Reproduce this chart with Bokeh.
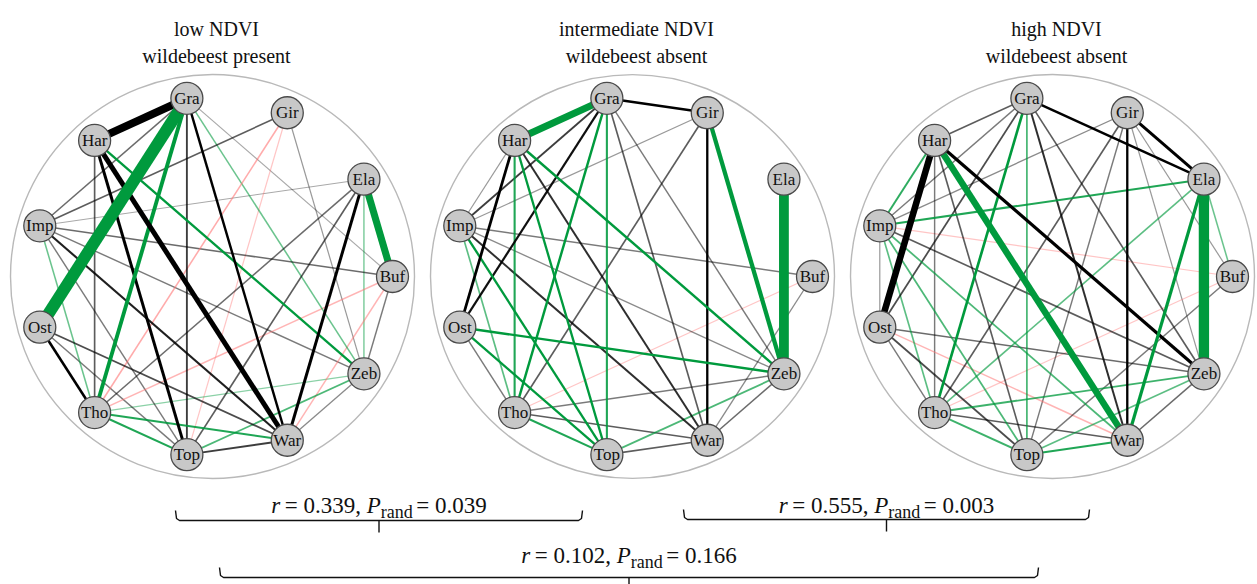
import math
from bokeh.plotting import figure
from bokeh.models import Range1d, ColumnDataSource
from bokeh.core.properties import value
from bokeh.embed import file_html
from bokeh.resources import INLINE

# ---------------- data ----------------
SPECIES = ["Buf", "Ela", "Gir", "Gra", "Har", "Imp", "Ost", "Tho", "Top", "War", "Zeb"]

TITLE_NDVI = ["low NDVI", "intermediate NDVI", "high NDVI"]
TITLE_WILDEBEEST = ["wildebeest present", "wildebeest absent", "wildebeest absent"]

# (species A, species B, association strength 0..1, kind) kind: g=green, k=black, r=pink
EDGES_LOW = [
    ("Gra", "Ost", 1.00, "g"), ("Gra", "Har", 0.62, "k"), ("Ela", "Buf", 0.55, "g"),
    ("Har", "War", 0.36, "k"), ("Gra", "Tho", 0.26, "g"), ("Har", "Top", 0.18, "k"),
    ("Ela", "War", 0.18, "k"), ("Ost", "Tho", 0.14, "k"), ("Gra", "War", 0.13, "k"),
    ("Har", "Zeb", 0.12, "g"), ("Imp", "War", 0.10, "k"), ("Tho", "Top", 0.10, "g"),
    ("Tho", "War", 0.10, "g"), ("Gra", "Top", 0.08, "k"), ("Top", "War", 0.08, "k"),
    ("Top", "Zeb", 0.07, "g"), ("Ost", "War", 0.07, "k"), ("Har", "Tho", 0.06, "k"),
    ("Ela", "Top", 0.06, "k"), ("Imp", "Gir", 0.06, "k"), ("Gra", "Zeb", 0.05, "g"),
    ("Imp", "Tho", 0.05, "g"), ("Ela", "Tho", 0.05, "k"), ("Imp", "Gra", 0.05, "k"),
    ("Imp", "Buf", 0.05, "k"), ("Gir", "Tho", 0.05, "r"), ("Ela", "Zeb", 0.04, "g"),
    ("Imp", "Zeb", 0.04, "k"), ("Imp", "Top", 0.04, "k"), ("Ost", "Top", 0.04, "k"),
    ("Buf", "Zeb", 0.04, "k"), ("Buf", "Tho", 0.04, "r"), ("Buf", "War", 0.04, "r"),
    ("Tho", "Zeb", 0.03, "g"), ("War", "Zeb", 0.03, "k"), ("Gir", "Zeb", 0.02, "k"),
    ("Gir", "Top", 0.02, "r"), ("Ela", "Imp", 0.01, "k"), ("Gra", "Buf", 0.01, "k"),
]

EDGES_MID = [
    ("Ela", "Zeb", 0.80, "g"), ("Gra", "Har", 0.55, "g"), ("Gir", "Zeb", 0.30, "g"),
    ("Har", "Ost", 0.16, "k"), ("Gra", "Gir", 0.14, "k"), ("Gra", "Tho", 0.13, "g"),
    ("Har", "Zeb", 0.13, "g"), ("Ost", "Zeb", 0.13, "g"), ("Har", "Top", 0.12, "g"),
    ("Gir", "War", 0.12, "k"), ("Imp", "Top", 0.12, "g"), ("Ost", "Top", 0.12, "g"),
    ("Gra", "Ost", 0.11, "k"), ("Gra", "Top", 0.10, "g"), ("Har", "Tho", 0.10, "g"),
    ("Tho", "Top", 0.10, "g"), ("Har", "War", 0.09, "k"), ("Imp", "War", 0.09, "k"),
    ("Gra", "Imp", 0.08, "k"), ("Top", "Zeb", 0.07, "g"), ("Gra", "War", 0.06, "k"),
    ("Gir", "Tho", 0.06, "k"), ("Imp", "Tho", 0.06, "g"), ("Tho", "War", 0.06, "k"),
    ("Top", "War", 0.06, "k"), ("War", "Zeb", 0.05, "k"), ("Gra", "Zeb", 0.04, "k"),
    ("Imp", "Buf", 0.04, "k"), ("Ost", "Tho", 0.04, "k"), ("Tho", "Zeb", 0.04, "k"),
    ("Imp", "Zeb", 0.03, "k"), ("Buf", "War", 0.03, "k"), ("Gir", "Imp", 0.02, "k"),
    ("Imp", "Har", 0.02, "k"), ("Buf", "Tho", 0.02, "r"),
]

EDGES_HIGH = [
    ("Ela", "Zeb", 0.85, "g"), ("Har", "Ost", 0.50, "k"), ("Har", "War", 0.50, "g"),
    ("Har", "Zeb", 0.20, "k"), ("Ela", "War", 0.20, "g"), ("Gir", "Ela", 0.18, "k"),
    ("Gra", "Tho", 0.15, "g"), ("Gra", "Ela", 0.13, "k"), ("Gir", "War", 0.12, "k"),
    ("Ela", "Imp", 0.10, "g"), ("Top", "War", 0.10, "g"), ("Gra", "War", 0.09, "k"),
    ("Har", "Imp", 0.09, "g"), ("Tho", "Zeb", 0.08, "g"), ("Tho", "Top", 0.08, "g"),
    ("Gra", "Top", 0.07, "g"), ("Gra", "Ost", 0.07, "k"), ("Imp", "War", 0.07, "g"),
    ("Imp", "Top", 0.07, "g"), ("Ost", "Top", 0.07, "k"), ("Gra", "Zeb", 0.06, "k"),
    ("Gra", "Har", 0.06, "k"), ("Ela", "Tho", 0.06, "g"), ("Har", "Top", 0.06, "k"),
    ("Gir", "Tho", 0.06, "k"), ("Imp", "Zeb", 0.06, "k"), ("Imp", "Tho", 0.06, "g"),
    ("Tho", "War", 0.06, "k"), ("Top", "Zeb", 0.06, "g"), ("Ela", "Buf", 0.05, "g"),
    ("Ost", "Zeb", 0.05, "k"), ("War", "Zeb", 0.05, "k"), ("Gra", "Imp", 0.04, "k"),
    ("Har", "Tho", 0.04, "k"), ("Gir", "Top", 0.04, "k"), ("Ost", "War", 0.04, "r"),
    ("Ost", "Tho", 0.04, "k"), ("Top", "Buf", 0.04, "k"), ("Gir", "Imp", 0.03, "k"),
    ("Gir", "Buf", 0.02, "k"), ("Gir", "Zeb", 0.02, "k"), ("Imp", "Ost", 0.02, "k"),
    ("Imp", "Buf", 0.02, "r"), ("Tho", "Buf", 0.02, "r"),
]

NETWORKS = [EDGES_LOW, EDGES_MID, EDGES_HIGH]

# Mantel comparisons between networks: (panel a, panel b), r, P_rand
COMPARISONS = [(0, 1), (1, 2), (0, 2)]
R_VALUES = [0.339, 0.555, 0.102]
P_VALUES = [0.039, 0.003, 0.166]

# ---------------- layout / style ----------------
W, H = 1257, 584
PANEL_CX = [212, 632, 1052]
PANEL_CY = 276
NODE_R = 180
RING_R = 202
SERIF = "Liberation Serif"
KIND_COLOR = {"g": "#009a3d", "k": "#000000", "r": "#ff6f6f"}
BRACKETS = [  # x0, x1, y, text baseline
    (175, 582, 520, 505),
    (683, 1089, 519, 505),
    (219, 1038, 577, 555),
]

p = figure(width=W, height=H, x_range=Range1d(0, W), y_range=Range1d(H, 0),
           output_backend="svg", toolbar_location=None, min_border=0,
           x_axis_location=None, y_axis_location=None)
p.grid.visible = False
p.outline_line_color = None
p.background_fill_color = "white"


def node_xy(cx, cy, i):
    ang = 2 * math.pi * i / len(SPECIES)
    return cx + NODE_R * math.cos(ang), cy - NODE_R * math.sin(ang)


# outer rings
p.circle(x=PANEL_CX, y=[PANEL_CY] * 3, radius=RING_R, fill_color=None,
         line_color="#b9b9b9", line_width=1.4)

for k, edges in enumerate(NETWORKS):
    cx = PANEL_CX[k]
    pos = {s: node_xy(cx, PANEL_CY, i) for i, s in enumerate(SPECIES)}
    es = sorted(edges, key=lambda e: e[2])
    xs, ys, cols, lws, als = [], [], [], [], []
    for a, b, w, kind in es:
        xa, ya = pos[a]
        xb, yb = pos[b]
        xs.append([xa, xb])
        ys.append([ya, yb])
        cols.append(KIND_COLOR[kind])
        lws.append(1.0 + 11.0 * w)
        als.append(min(1.0, 0.28 + 6.0 * w))
    src = ColumnDataSource(dict(xs=xs, ys=ys, c=cols, lw=lws, a=als))
    p.multi_line("xs", "ys", source=src, line_color="c", line_width="lw", line_alpha="a")

    nx = [pos[s][0] for s in SPECIES]
    ny = [pos[s][1] for s in SPECIES]
    p.scatter(nx, ny, marker="circle", size=32, fill_color="#c8c8c8",
              line_color="#4a4a4a", line_width=1.3)
    p.text(nx, ny, text=SPECIES, text_font=value(SERIF), text_font_size="17px",
           text_align="center", text_baseline="middle", text_color="#111111")

    p.text([cx + 4], [28], text=[TITLE_NDVI[k]], text_font=value(SERIF),
           text_font_size="20px", text_align="center", text_baseline="alphabetic",
           text_color="#111111")
    p.text([cx + 4], [55], text=[TITLE_WILDEBEEST[k]], text_font=value(SERIF),
           text_font_size="20px", text_align="center", text_baseline="alphabetic",
           text_color="#111111")

# ---------------- comparison annotations ----------------
ADV = {"0": 500, "1": 500, "2": 500, "3": 500, "4": 500, "5": 500, "6": 500, "7": 500,
       "8": 500, "9": 500, ".": 250, ",": 250, "=": 564, "r": 333, "a": 444, "n": 500,
       "d": 500}
ADV_IT = {"r": 389, "P": 611}
MAIN, SUB = 23, 18


def adv(s, size, table):
    return sum(table[c] for c in s) * size / 1000.0


for j, (a, b) in enumerate(COMPARISONS):
    x0, x1, yb, base = BRACKETS[j]
    xc = (x0 + x1) / 2.0
    tokens = [
        ("r", "italic", MAIN, 0, 0.2),
        ("=", "normal", MAIN, 0, 0.25),
        ("{:.3f},".format(R_VALUES[j]), "normal", MAIN, 0, 0.25),
        ("P", "italic", MAIN, 0, 0.0),
        ("rand", "normal", SUB, 6, 0.15),
        ("=", "normal", MAIN, 0, 0.25),
        ("{:.3f}".format(P_VALUES[j]), "normal", MAIN, 0, 0.0),
    ]
    widths = [adv(t, s, ADV_IT if st == "italic" else ADV) + g * MAIN
              for t, st, s, dy, g in tokens]
    cur = xc - sum(widths) / 2.0
    for (t, st, s, dy, g), wdt in zip(tokens, widths):
        p.text([cur], [base + dy], text=[t], text_font=value(SERIF),
               text_font_size="{}px".format(s), text_font_style=st,
               text_align="left", text_baseline="alphabetic", text_color="#111111")
        cur += wdt
    bx = [x0, x0 + 1, x0 + 4, xc, xc, xc, x1 - 4, x1 - 1, x1]
    by = [yb - 10, yb - 2, yb, yb, yb + 12, yb, yb, yb - 2, yb - 10]
    p.line(bx, by, line_color="#111111", line_width=1.4)

open("out.html", "w").write(file_html(p, INLINE))
